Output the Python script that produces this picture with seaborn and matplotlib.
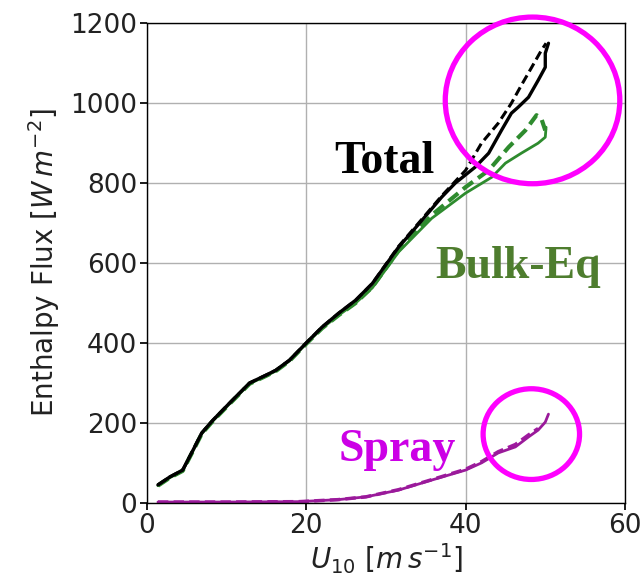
import matplotlib
matplotlib.use("Agg")
import matplotlib.pyplot as plt
import seaborn as sns
import pandas as pd
from matplotlib.patches import Ellipse

# ---- data ----
u_total = [1.4, 2.9, 4.5, 5.8, 6.9, 8.3, 10.4, 12.9, 15.0, 16.2, 17.9, 20.0, 22.0, 24.1,
           26.2, 28.3, 31.6, 34.1, 37.0, 38.7, 41.2, 42.9, 44.5, 45.75, 46.6, 47.9, 49.1,
           50.0, 50.0, 50.4]
total_solid = [45, 65, 82, 132, 175, 207, 250, 300, 320, 332, 357, 400, 440, 475,
               507, 549, 640, 697, 765, 800, 840, 875, 932, 975, 990, 1015, 1057,
               1090, 1125, 1150]

u_total_d = [1.4, 2.9, 4.5, 5.8, 6.9, 8.3, 10.4, 12.9, 15.0, 16.2, 17.9, 20.0, 22.0, 24.1,
             26.2, 28.3, 31.6, 34.1, 37.0, 40.0, 42.0, 44.1, 45.75, 47.0, 48.3, 49.5, 50.1]
total_dash = [45, 65, 82, 132, 175, 207, 250, 300, 320, 332, 357, 400, 440, 475,
              507, 549, 642, 700, 768, 832, 900, 950, 1000, 1045, 1090, 1132, 1150]

u_bulk = [1.4, 2.9, 4.5, 5.8, 6.9, 8.3, 10.4, 12.9, 15.0, 16.2, 17.9, 20.0, 22.0, 24.1,
          26.2, 28.3, 31.6, 35.75, 40.0, 43.3, 45.0, 47.0, 49.1, 50.0, 50.1]
bulk_solid = [43, 63, 80, 130, 173, 205, 248, 298, 318, 330, 355, 398, 437, 470,
              500, 538, 628, 712, 775, 815, 850, 875, 900, 915, 940]

u_bulk_d = [1.4, 2.9, 4.5, 5.8, 6.9, 8.3, 10.4, 12.9, 15.0, 16.2, 17.9, 20.0, 22.0, 24.1,
            26.2, 28.3, 31.6, 35.75, 40.0, 42.9, 45.4, 47.5, 48.9, 49.5, 50.0]
bulk_dash = [43, 63, 80, 130, 173, 205, 248, 298, 318, 330, 355, 398, 437, 470,
             500, 540, 632, 720, 790, 832, 890, 932, 970, 962, 932]

u_spray = [1.4, 10.0, 19.1, 24.0, 27.5, 31.6, 35.75, 40.0, 42.0, 44.1, 46.25, 47.9,
           49.1, 50.0, 50.4]
spray_solid = [2, 2, 3, 8, 15, 32, 57, 82, 100, 125, 140, 165, 182, 202, 222]
u_spray_d = [1.4, 10.0, 19.1, 24.0, 27.5, 31.6, 35.75, 40.0, 42.0, 44.1, 46.25, 47.9, 49.1]
spray_dash = [2, 2, 3, 8, 15, 33, 58, 84, 103, 128, 146, 170, 186]

x_ticks = [0, 20, 40, 60]
y_ticks = [0, 200, 400, 600, 800, 1000, 1200]

# ---- style ----
sns.set_theme(style="whitegrid")
plt.rcParams.update({
    "font.family": ["DejaVu Sans"],
    "axes.edgecolor": "black",
    "axes.linewidth": 1.0,
    "grid.color": "#b0b0b0",
    "grid.linewidth": 1.0,
    "xtick.bottom": True,
    "ytick.left": True,
    "xtick.major.size": 5,
    "ytick.major.size": 5,
    "xtick.color": "black",
    "ytick.color": "black",
    "axes.labelcolor": "#222222",
})

fig = plt.figure(figsize=(6.41, 5.82), dpi=100)
ax = fig.add_axes([0.229, 0.136, 0.746, 0.824])

def draw(x, y, color, ls, lw):
    df = pd.DataFrame({"u": x, "f": y})
    sns.lineplot(data=df, x="u", y="f", ax=ax, color=color, linestyle=ls,
                 linewidth=lw, sort=False, estimator=None)

draw(u_bulk_d, bulk_dash, "#2e8b2e", (0, (3, 1.5)), 3.0)
draw(u_bulk, bulk_solid, "#2e8b2e", "-", 2.0)
draw(u_spray_d, spray_dash, "#a01aa0", (0, (3, 1.5)), 2.5)
draw(u_spray, spray_solid, "#9a1a9a", "-", 2.0)
draw(u_total_d, total_dash, "black", (0, (3, 1.5)), 2.2)
draw(u_total, total_solid, "black", "-", 2.4)

ax.set_xlim(0, 60)
ax.set_ylim(0, 1200)
ax.set_xticks(x_ticks)
ax.set_yticks(y_ticks)
ax.tick_params(labelsize=19, pad=2, labelcolor="#222222")
ax.set_xlabel(r"$U_{10}$ [$m\,s^{-1}$]", fontsize=20, labelpad=2)
ax.set_ylabel(r"Enthalpy Flux [$W\,m^{-2}$]", fontsize=20, labelpad=6)

serif = ["Liberation Serif", "DejaVu Serif"]
ax.text(29.8, 852, "Total", color="black", fontsize=33, fontweight="bold",
        family=serif, ha="center", va="center")
ax.text(46.6, 590, "Bulk-Eq", color="#4e7d2e", fontsize=33, fontweight="bold",
        family=serif, ha="center", va="center")
ax.text(31.4, 132, "Spray", color="#cc00e6", fontsize=33, fontweight="bold",
        family=serif, ha="center", va="center")

ax.add_patch(Ellipse((48.4, 1007), 21.9, 417, fill=False, edgecolor="#ff00ff",
                     linewidth=3.8, clip_on=False, zorder=5))
ax.add_patch(Ellipse((48.25, 172), 12.1, 227, fill=False, edgecolor="#ff00ff",
                     linewidth=3.8, clip_on=False, zorder=5))

fig.savefig("out.png", dpi=100)
